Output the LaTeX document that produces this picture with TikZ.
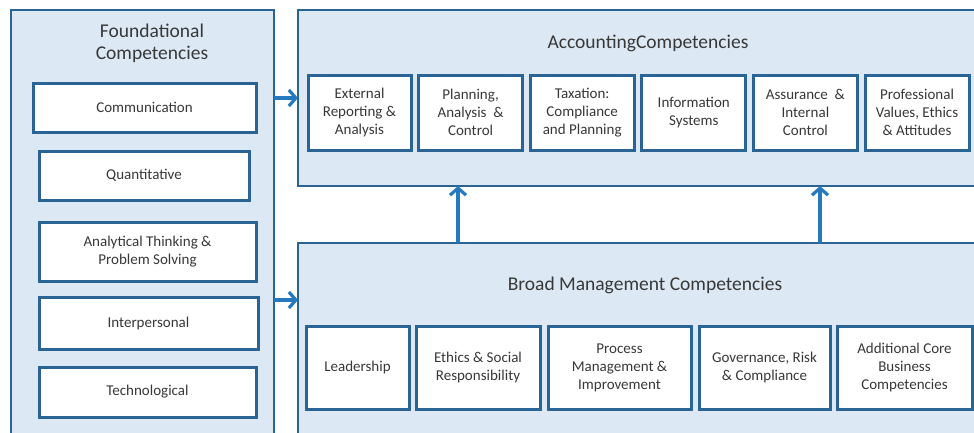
\documentclass[tikz,border=0pt]{standalone}
\usepackage{fontspec}
\setmainfont{Carlito}
\usetikzlibrary{arrows.meta, positioning}
\definecolor{boxline}{HTML}{2A6494}
\definecolor{panelfill}{HTML}{DCE9F5}
\definecolor{flowblue}{HTML}{2479BF}
\definecolor{labelgrey}{HTML}{383838}

\begin{document}
\begin{tikzpicture} [
    x=1pt, y=-1pt,
    panel/.style={draw=boxline, fill=panelfill, line width=2.2pt, anchor=north west, inner sep=0pt, outer sep=0pt},
    item/.style={draw=boxline, fill=white, line width=3pt, align=center, text=labelgrey,
                 font=\fontsize{15}{18}\selectfont, inner sep=0pt, outer sep=0pt},
    heading/.style={text=labelgrey, font=\fontsize{19.5}{22}\selectfont, align=center},
    flow/.style={draw=flowblue, line width=3.2pt, -{Straight Barb[length=7pt, width=16pt]}}
  ]

  \useasboundingbox (0,0) rectangle (974,432);

  % Panels
  \node[panel, minimum width=263pt, minimum height=440pt] (Found) at (11,10) {};
  \node[panel, minimum width=700pt, minimum height=176pt] (Acct) at (298,10) {};
  \node[panel, minimum width=700pt, minimum height=230pt] (Broad) at (298,243) {};

  % Headings
  \node[heading] (FoundTitle) at (152,43) {Foundational\\Competencies};
  \node[heading] (AcctTitle) at (648,43) {AccountingCompetencies};
  \node[heading] (BroadTitle) at (645,285) {Broad Management Competencies};

  % Foundational column
  \node[item, anchor=north west, minimum width=223pt, minimum height=49pt] (Comm) at (33,83) {Communication};
  \node[item, anchor=north west, minimum width=210pt, minimum height=49pt] (Quant) at (39,151) {Quantitative};
  \node[item, anchor=north west, minimum width=217pt, minimum height=59pt] (Anal) at (39,222) {Analytical Thinking \&\\Problem Solving};
  \node[item, anchor=north west, minimum width=219pt, minimum height=52pt] (Inter) at (39,297) {Interpersonal};
  \node[item, anchor=north west, minimum width=217pt, minimum height=50pt] (Tech) at (39,367) {Technological};

  % Accounting row
  \node[item, anchor=north west, minimum width=103pt, minimum height=75pt] (ExtRep) at (308,75) {External\\Reporting \&\\Analysis};
  \node[item, minimum width=104pt, minimum height=75pt, right=7.6pt of ExtRep] (PlanAn) {Planning,\\Analysis\ \ \&\\Control};
  \node[item, minimum width=104pt, minimum height=75pt, right=7.6pt of PlanAn] (Tax) {Taxation:\\Compliance\\and Planning};
  \node[item, minimum width=104pt, minimum height=75pt, right=7.6pt of Tax] (InfoSys) {Information\\Systems};
  \node[item, minimum width=104pt, minimum height=75pt, right=7.6pt of InfoSys] (Assur) {Assurance\ \ \&\\Internal\\Control};
  \node[item, minimum width=104pt, minimum height=75pt, right=7.6pt of Assur] (ProfVal) {Professional\\Values, Ethics\\\& Attitudes};

  % Broad management row
  \node[item, anchor=north west, minimum width=103pt, minimum height=83pt] (Lead) at (306,326) {Leadership};
  \node[item, minimum width=124pt, minimum height=83pt, right=7pt of Lead] (EthSoc) {Ethics \& Social\\Responsibility};
  \node[item, minimum width=143pt, minimum height=83pt, right=8pt of EthSoc] (ProcMgmt) {Process\\Management \&\\Improvement};
  \node[item, minimum width=131pt, minimum height=83pt, right=8pt of ProcMgmt] (GovRisk) {Governance, Risk\\\& Compliance};
  \node[item, minimum width=135pt, minimum height=83pt, right=7pt of GovRisk] (AddCore) {Additional Core\\Business\\Competencies};

  % Connectors
  \coordinate (BroadIn) at (298,300);
  \coordinate (LiftL) at (458,0);
  \coordinate (LiftR) at (820,0);

  \draw[flow] (Found.east |- Acct.west) -- (Acct.west);
  \draw[flow] (Found.east |- BroadIn) -- (BroadIn);
  \draw[flow] (Broad.north -| LiftL) -- (Acct.south -| LiftL);
  \draw[flow] (Broad.north -| LiftR) -- (Acct.south -| LiftR);

\end{tikzpicture}
\end{document}
